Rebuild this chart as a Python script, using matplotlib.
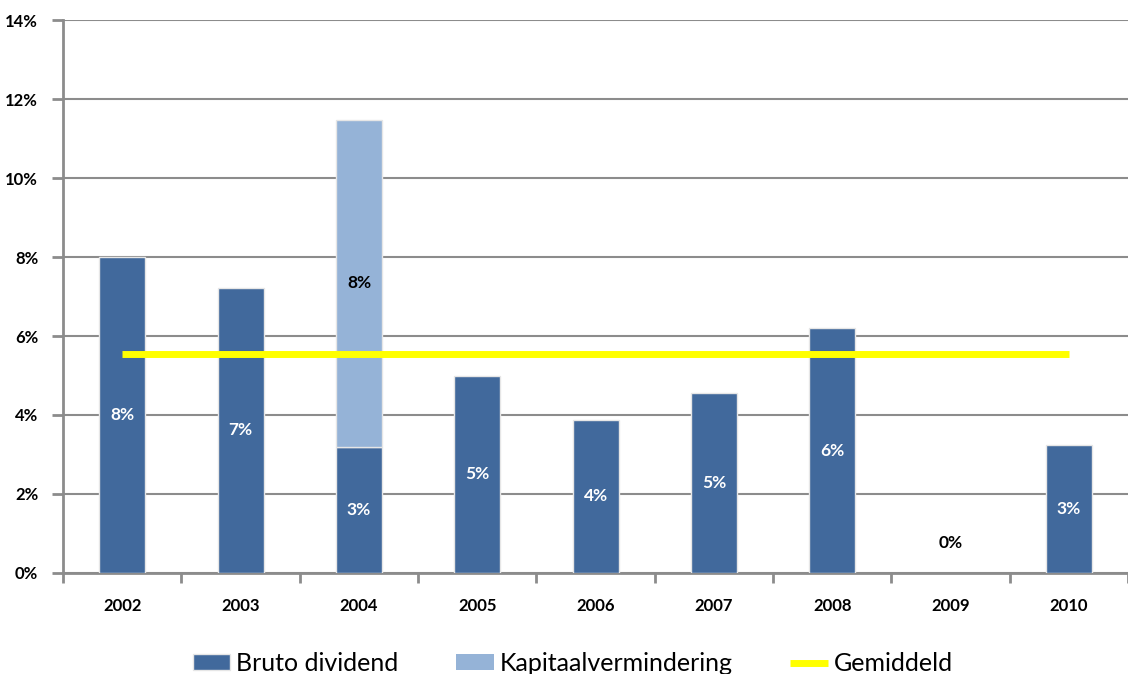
import matplotlib.pyplot as plt
import numpy as np

# values (percent)
years = ["2002", "2003", "2004", "2005", "2006", "2007", "2008", "2009", "2010"]
bruto_dividend = [8.0, 7.22, 3.2, 5.0, 3.88, 4.55, 6.2, 0.0, 3.25]
kapitaalvermindering = [0.0, 0.0, 8.28, 0.0, 0.0, 0.0, 0.0, 0.0, 0.0]
gemiddeld = 5.55
yticks = [0, 2, 4, 6, 8, 10, 12, 14]

DARK = "#41699c"
LIGHT = "#95b3d7"
GRID = "#8c8c8c"
EDGE = "#e6e6e6"

plt.rcParams["font.family"] = ["Lato", "DejaVu Sans"]

fig = plt.figure(figsize=(11.28, 6.74), dpi=100, facecolor="white")
ax = fig.add_axes([0.056, 0.150, 0.944, 0.820])

x = np.arange(len(years))
w = 0.39
# no outline on empty bars
edge_b = [EDGE if v > 0 else "none" for v in bruto_dividend]
edge_k = [EDGE if v > 0 else "none" for v in kapitaalvermindering]
h1 = ax.bar(x, bruto_dividend, w, color=DARK, edgecolor=edge_b, linewidth=1,
            label="Bruto dividend", zorder=3)
h2 = ax.bar(x, kapitaalvermindering, w, bottom=bruto_dividend, color=LIGHT,
            edgecolor=edge_k, linewidth=1, label="Kapitaalvermindering", zorder=3)
h3, = ax.plot([x[0], x[-1]], [gemiddeld, gemiddeld], color="#ffff00", linewidth=5,
              solid_capstyle="butt", label="Gemiddeld", zorder=4)

# labels in the bars
for i, (b, k) in enumerate(zip(bruto_dividend, kapitaalvermindering)):
    if b > 0:
        ax.text(x[i], b / 2, f"{b:.0f}%", ha="center", va="center", color="white",
                fontsize=12.5, fontweight="bold", zorder=5)
    else:
        ax.text(x[i], 0.76, "0%", ha="center", va="center", color="black",
                fontsize=12.5, fontweight="bold", zorder=5)
    if k > 0:
        ax.text(x[i], b + k / 2, f"{k:.0f}%", ha="center", va="center", color="black",
                fontsize=12.5, fontweight="bold", zorder=5)

ax.set_xlim(-0.5, len(years) - 0.5)
ax.set_ylim(0, 14)
ax.set_yticks(yticks)
ax.set_yticklabels([f"{t}%" for t in yticks], fontsize=12, fontweight="bold")
ax.set_xticks(x)
ax.set_xticklabels(years, fontsize=12, fontweight="bold")
ax.tick_params(axis="x", length=0, pad=18)
ax.set_xticks(np.arange(-0.5, len(years), 1), minor=True)
ax.tick_params(axis="x", which="minor", length=7, width=2, color=GRID)
ax.tick_params(axis="y", length=8, width=2, color=GRID, pad=10)

ax.grid(axis="y", color=GRID, linewidth=1.5, zorder=0)
ax.set_axisbelow(True)
for s in ["top", "right"]:
    ax.spines[s].set_visible(False)
for s in ["left", "bottom"]:
    ax.spines[s].set_color(GRID)
    ax.spines[s].set_linewidth(2)

fig.legend([h1, h2, h3], ["Bruto dividend", "Kapitaalvermindering", "Gemiddeld"],
           loc="lower center", bbox_to_anchor=(0.508, -0.035), ncol=3, frameon=False,
           fontsize=18, handlelength=1.5, handleheight=0.6, columnspacing=2.3,
           handletextpad=0.25)

fig.savefig("out.png", dpi=100, facecolor="white")
